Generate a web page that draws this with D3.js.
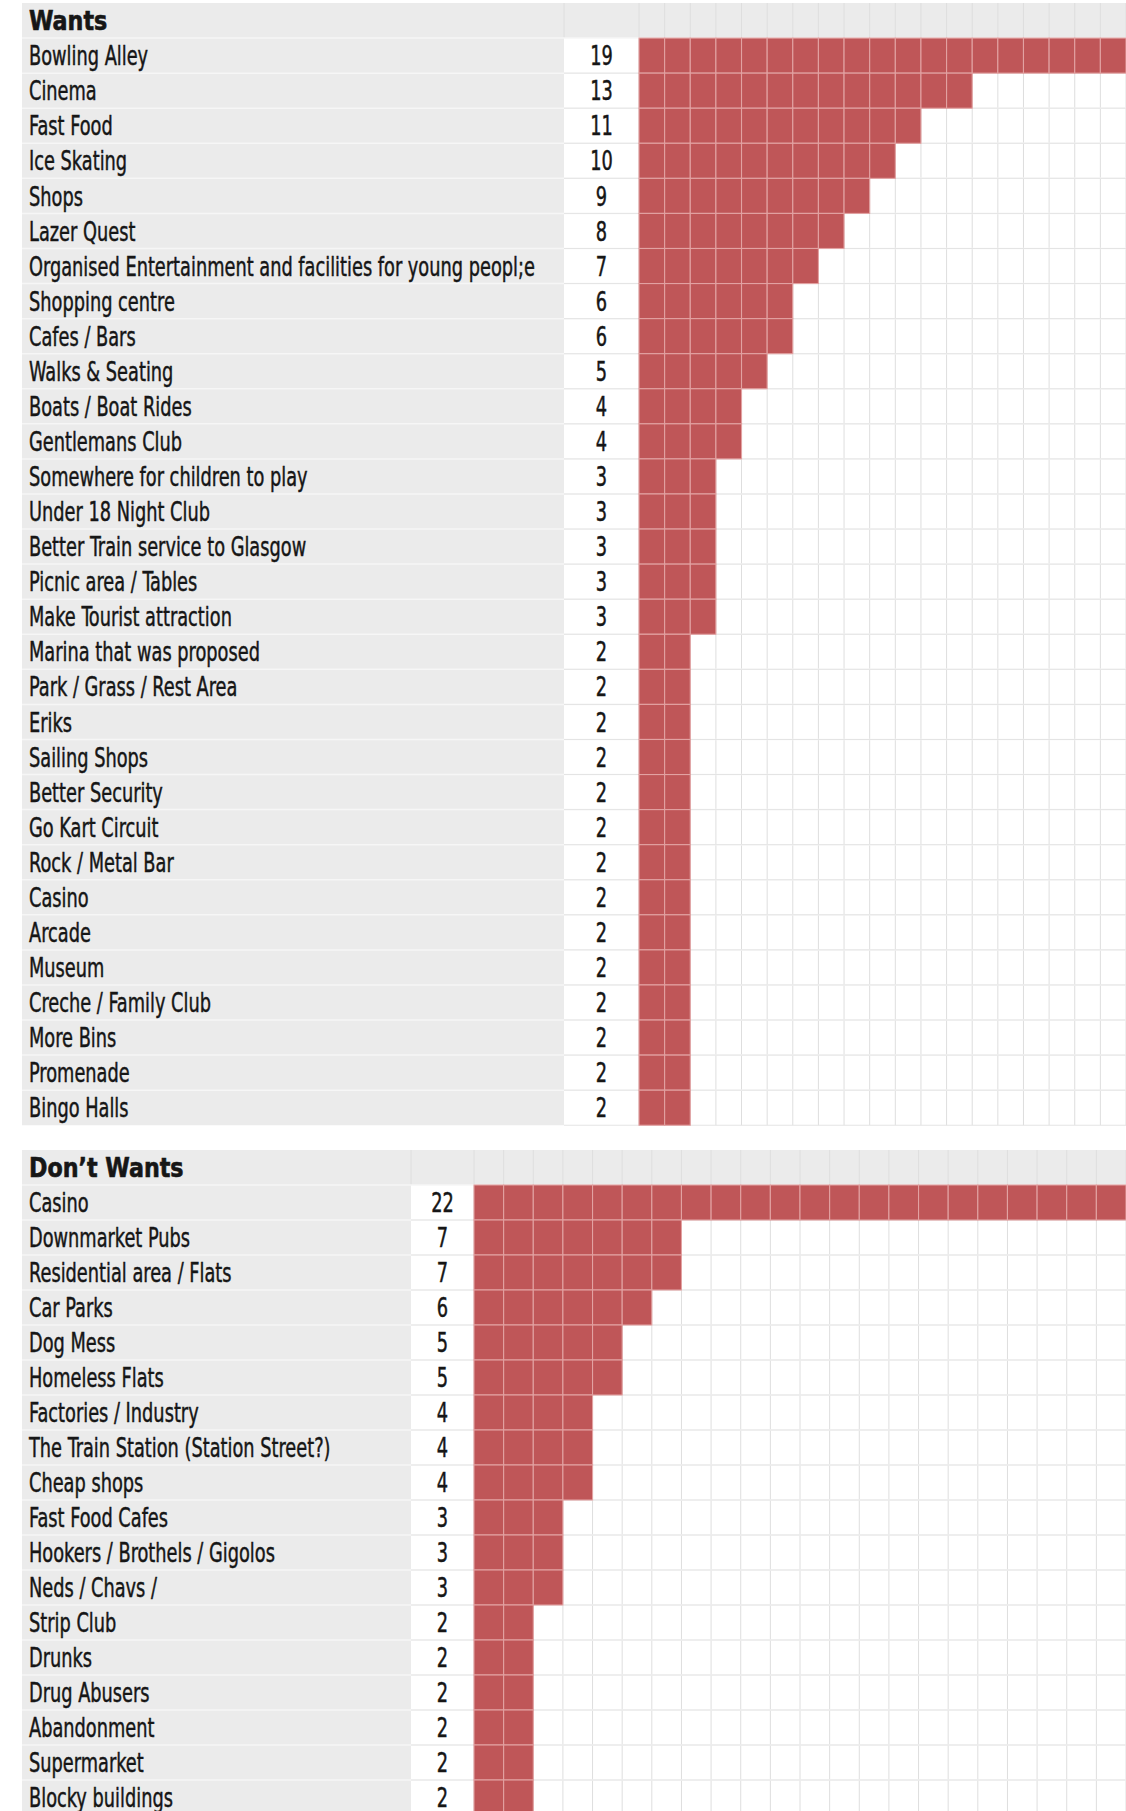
<!DOCTYPE html>
<html>
<head>
<meta charset="utf-8">
<script src="https://cdn.jsdelivr.net/npm/d3@7"></script>
<style>
  body { margin: 0; background: #fff; }
  text { font-family: "Liberation Sans Narrow", "DejaVu Sans Condensed", "Roboto Condensed", sans-serif; fill: #161616; }
</style>
</head>
<body>
<svg id="chart" width="1126" height="1811"></svg>
<script>
// Wants
const wantsLabels = [
  "Bowling Alley", "Cinema", "Fast Food", "Ice Skating", "Shops", "Lazer Quest",
  "Organised Entertainment and facilities for young peopl;e", "Shopping centre",
  "Cafes / Bars", "Walks  & Seating", "Boats / Boat Rides", "Gentlemans Club",
  "Somewhere for children to play", "Under 18 Night Club", "Better Train service to Glasgow",
  "Picnic area / Tables", "Make Tourist attraction", "Marina that was proposed",
  "Park / Grass / Rest Area", "Eriks", "Sailing Shops", "Better Security", "Go Kart Circuit",
  "Rock / Metal Bar", "Casino", "Arcade", "Museum", "Creche / Family Club", "More Bins",
  "Promenade", "Bingo Halls"
];
const wantsValues = [19, 13, 11, 10, 9, 8, 7, 6, 6, 5, 4, 4, 3, 3, 3, 3, 3,
  2, 2, 2, 2, 2, 2, 2, 2, 2, 2, 2, 2, 2, 2];

// Don't Wants
const dontLabels = [
  "Casino", "Downmarket Pubs", "Residential area / Flats", "Car Parks", "Dog Mess",
  "Homeless Flats", "Factories / Industry", "The Train Station (Station Street?)",
  "Cheap shops", "Fast Food Cafes", "Hookers / Brothels / Gigolos", "Neds / Chavs /",
  "Strip Club", "Drunks", "Drug Abusers", "Abandonment", "Supermarket", "Blocky buildings"
];
const dontValues = [22, 7, 7, 6, 5, 5, 4, 4, 4, 3, 3, 3, 2, 2, 2, 2, 2, 2];

const W = 1126;
const svg = d3.select("#chart");
svg.append("rect").attr("width", W).attr("height", 1811).attr("fill", "#fff");

const barColor = "#bf5658";
const cellLine = "#e2a2a2";
const labelBg = "#ebebeb";
const gridColor = "#e4e4e4";

// one panel = header row + one row per item
function drawPanel(title, labels, values, opt) {
  const g = svg.append("g");
  const rows = labels.map((l, i) => ({ label: l, value: values[i] }));
  const maxV = d3.max(values);

  const y = d3.scaleBand()
    .domain(labels)
    .range([opt.top + opt.rowH, opt.top + opt.rowH * (labels.length + 1)]);
  const x = d3.scaleLinear().domain([0, maxV]).range([opt.barX, W]);
  const bottom = y.range()[1];

  // backgrounds
  g.append("rect").attr("x", opt.left).attr("y", opt.top)
    .attr("width", W - opt.left).attr("height", opt.rowH).attr("fill", labelBg);
  g.append("rect").attr("x", opt.left).attr("y", opt.top + opt.rowH)
    .attr("width", opt.valX - opt.left).attr("height", bottom - opt.top - opt.rowH)
    .attr("fill", labelBg);

  // vertical grid lines
  const ticks = d3.range(0, maxV + 1);
  g.selectAll(".vgrid").data(ticks).join("line")
    .attr("x1", d => x(d)).attr("x2", d => x(d))
    .attr("y1", opt.top).attr("y2", bottom)
    .attr("stroke", "#dedede").attr("stroke-width", 1);
  g.append("line").attr("x1", opt.valX).attr("x2", opt.valX)
    .attr("y1", opt.top).attr("y2", opt.top + opt.rowH)
    .attr("stroke", "#dedede");

  // horizontal row lines
  g.selectAll(".hgrid").data(labels).join("line")
    .attr("x1", opt.left).attr("x2", W)
    .attr("y1", d => y(d)).attr("y2", d => y(d))
    .attr("stroke", "#f6f6f6").attr("stroke-width", 1.5);
  g.selectAll(".hgrid2").data(labels).join("line")
    .attr("x1", opt.valX).attr("x2", W)
    .attr("y1", d => y(d) + y.bandwidth()).attr("y2", d => y(d) + y.bandwidth())
    .attr("stroke", gridColor).attr("stroke-width", 1);

  // bars as cells
  const cells = rows.flatMap(r => d3.range(r.value).map(i => ({ label: r.label, i })));
  g.selectAll(".cell").data(cells).join("rect")
    .attr("x", d => x(d.i)).attr("y", d => y(d.label))
    .attr("width", d => x(d.i + 1) - x(d.i)).attr("height", y.bandwidth())
    .attr("fill", barColor).attr("stroke", cellLine).attr("stroke-width", 1.1);

  // title, slightly wider than the labels
  g.append("g").attr("transform", `translate(${opt.left + 7},0) scale(0.95,1)`)
    .append("text").attr("x", 0).attr("y", opt.top + opt.rowH / 2)
    .attr("dy", "0.36em").attr("font-size", 26).attr("font-weight", "bold")
    .attr("stroke", "#161616").attr("stroke-width", 0.6)
    .text(title);

  // labels, compressed horizontally to match the condensed face
  const lab = g.append("g").attr("transform", `translate(${opt.left + 7},0) scale(${opt.sx},1)`);
  lab.selectAll(".lbl").data(rows).join("text")
    .attr("x", 0).attr("y", d => y(d.label) + y.bandwidth() / 2)
    .attr("dy", "0.37em").attr("font-size", opt.fs)
    .attr("stroke", "#161616").attr("stroke-width", 0.45)
    .text(d => d.label);

  const valC = (opt.valX + opt.barX) / 2;
  const vg = g.append("g").attr("transform", `translate(${valC},0) scale(${opt.sx},1)`);
  vg.selectAll(".val").data(rows).join("text")
    .attr("x", 0).attr("y", d => y(d.label) + y.bandwidth() / 2)
    .attr("dy", "0.37em").attr("text-anchor", "middle").attr("font-size", opt.fs)
    .attr("stroke", "#161616").attr("stroke-width", 0.45)
    .text(d => d.value);
}

drawPanel("Wants", wantsLabels, wantsValues,
  { top: 3, rowH: 35.07, left: 22, valX: 564, barX: 639, fs: 26, sx: 0.76 });
drawPanel("Don\u2019t Wants", dontLabels, dontValues,
  { top: 1150, rowH: 35, left: 22, valX: 411, barX: 474, fs: 26, sx: 0.76 });
</script>
</body>
</html>
